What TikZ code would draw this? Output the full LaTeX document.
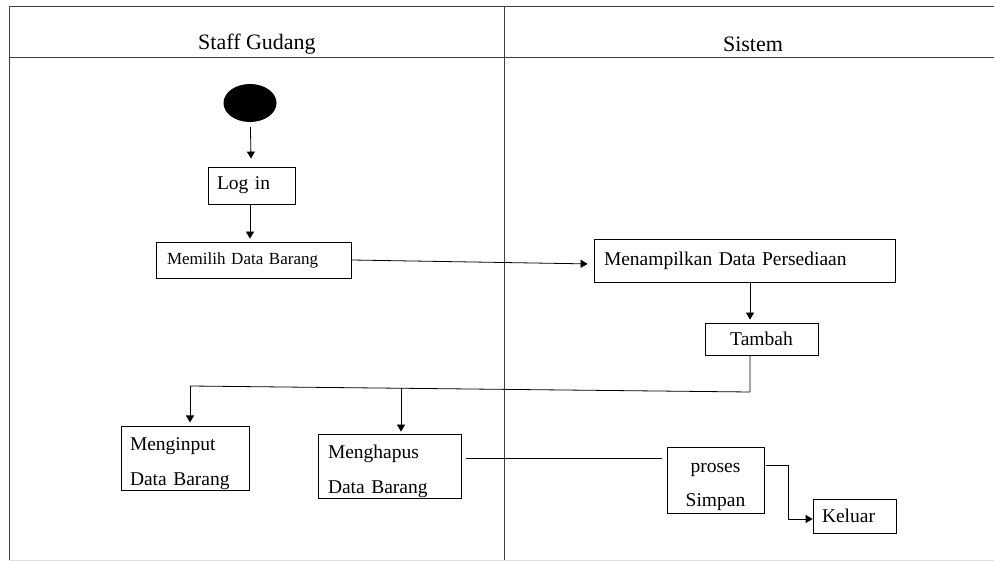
\documentclass[tikz,border=0pt]{standalone}
\usepackage{fontspec}
\setmainfont{Liberation Serif}
\usetikzlibrary{arrows.meta,shapes.geometric}
\newcommand{\bodyfont}{\fontsize{19.5}{23}\selectfont}
\begin{document}
\begin{tikzpicture}[x=1pt, y=-1pt,
    lane/.style={line width=0.9pt, draw=black!75},
    actbox/.style={draw, line width=0.8pt, inner xsep=9pt, inner ysep=0pt, align=left, font=\bodyfont},
    flow/.style={line width=0.8pt},
    arr/.style={flow, -{Triangle[length=7pt,width=8pt]}}]
    \useasboundingbox (0,0) rectangle (994,561);

    \draw[lane] (9,561) -- (9,6) -- (994,6);
    \draw[lane] (9,57) -- (994,57);
    \draw[lane] (504,6) -- (504,561);
    \draw[black!12, line width=0.8pt] (9,560) -- (994,560);
    \node[font=\fontsize{22}{26}\selectfont] (staff) at (257,44) {Staff Gudang};
    \node[font=\fontsize{22}{26}\selectfont] (sistem) at (753,44) {Sistem};

    \node[ellipse, fill=black, minimum width=53, minimum height=38, inner sep=0pt] (start) at (250,103) {};
    \node[actbox, text width=69pt, minimum height=37] (login) at (251.5,185.5) {Log in};
    \node[actbox, text width=173pt, minimum height=36, inner xsep=11pt, font=\fontsize{17}{20}\selectfont] (pilih) at (253.5,260) {Memilih Data Barang};
    \node[actbox, text width=281pt, minimum height=43, inner xsep=10pt] (tampil) at (744.5,260.5) {Menampilkan Data Persediaan\\[6pt]};
    \node[actbox, align=center, text width=95pt, minimum height=32] (tambah) at (761.5,339) {Tambah};
    \node[actbox, text width=110pt, minimum height=63] (input) at (185,458.5) {\rule{0pt}{24pt}Menginput\\[12pt]Data Barang};
    \node[actbox, text width=123pt, minimum height=64, inner xsep=10pt] (hapus) at (389.5,466) {\rule{0pt}{24pt}Menghapus\\[12pt]Data Barang};
    \node[actbox, align=center, text width=79pt, minimum height=66] (proses) at (715.5,480) {\rule{0pt}{23pt}proses\\[11pt]Simpan};
    \node[actbox, text width=65pt, minimum height=34] (keluar) at (854.5,516) {Keluar};

    \coordinate (bendR) at (750,392);
    \coordinate (bendL) at (190,386);
    \coordinate (dropH) at (401,388);

    \draw[arr, shorten <=5pt, shorten >=8pt] (start) -- (login);
    \draw[arr, shorten >=3pt] ([xshift=-1.5pt]login.south) -- ([xshift=-3.5pt]pilih.north);
    \draw[arr, shorten >=6pt] (pilih.east) -- ([yshift=-3.5pt]tampil.west);
    \draw[arr, shorten >=3pt] ([xshift=5.5pt]tampil.south) -- ([xshift=5.5pt]tampil.south |- tambah.north);
    \draw[flow] ([xshift=-11.5pt]tambah.south) -- (bendR) -- (bendL);
    \draw[arr, shorten >=4pt] (bendL) -- (bendL |- input.north);
    \draw[arr, shorten >=2pt] (dropH) -- (dropH |- hapus.north);
    \draw[flow, shorten <=5pt, shorten >=5pt] ([yshift=8pt]hapus.east) -- ([yshift=8pt]hapus.east -| proses.west);
    \draw[arr, shorten <=2pt] ([yshift=15pt]proses.east) -- ++(24,0) |- ([yshift=-3pt]keluar.west);
\end{tikzpicture}
\end{document}
